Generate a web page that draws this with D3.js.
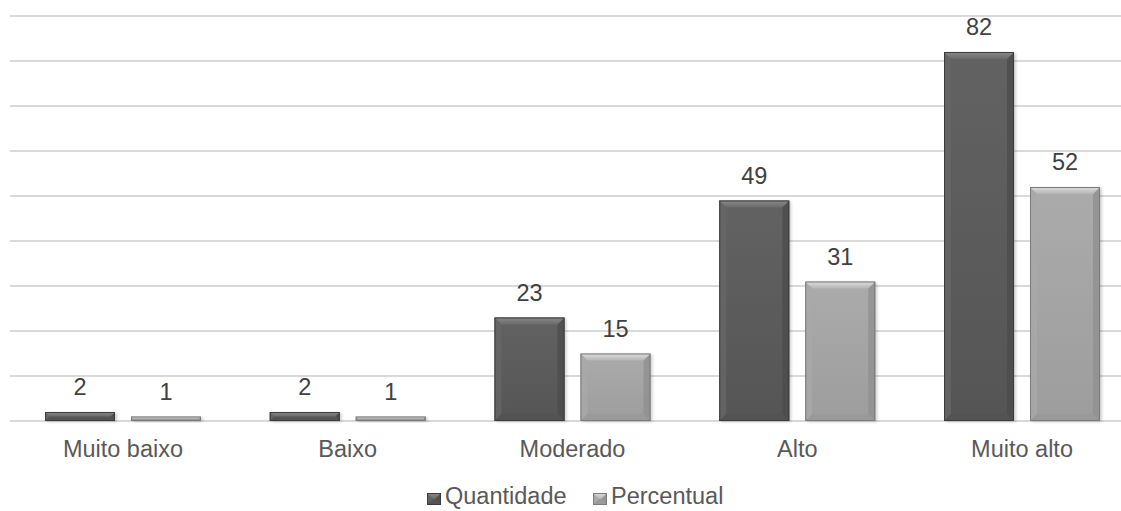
<!DOCTYPE html>
<html>
<head>
<meta charset="utf-8">
<script src="https://cdn.jsdelivr.net/npm/d3@7"></script>
<style>
  html, body { margin: 0; padding: 0; background: #ffffff; }
  svg { display: block; font-family: "Liberation Sans", Arial, sans-serif; }
</style>
</head>
<body>
<svg id="chart" width="1121" height="511"></svg>
<script>
// Nível de risco: quantidade e percentual
const categories = ["Muito baixo", "Baixo", "Moderado", "Alto", "Muito alto"];
const seriesNames = ["Quantidade", "Percentual"];
const quantidade = [2, 2, 23, 49, 82];
const percentual = [1, 1, 15, 31, 52];
const gridTicks = [0, 10, 20, 30, 40, 50, 60, 70, 80, 90];

const seriesValues = [quantidade, percentual];
const palettes = [
  { id: "q", faceTop: "#626262", faceBot: "#555555", topA: "#8a8a8a", topB: "#6a6a6a",
    left: "#666666", right: "#4c4c4c", bottom: "#525252", edge: "#3c3c3c" },
  { id: "p", faceTop: "#ababab", faceBot: "#9d9d9d", topA: "#dedede", topB: "#b4b4b4",
    left: "#a9a9a9", right: "#909090", bottom: "#999999", edge: "#7a7a7a" }
];

const svg = d3.select("#chart");
const W = 1121;
const defs = svg.append("defs");

palettes.forEach(p => {
  const f = defs.append("linearGradient").attr("id", "face-" + p.id)
    .attr("x1", 0).attr("y1", 0).attr("x2", 0).attr("y2", 1);
  f.append("stop").attr("offset", "0%").attr("stop-color", p.faceTop);
  f.append("stop").attr("offset", "100%").attr("stop-color", p.faceBot);
  const t = defs.append("linearGradient").attr("id", "top-" + p.id)
    .attr("x1", 0).attr("y1", 0).attr("x2", 0).attr("y2", 1);
  t.append("stop").attr("offset", "0%").attr("stop-color", p.topA);
  t.append("stop").attr("offset", "100%").attr("stop-color", p.topB);
});
defs.append("filter").attr("id", "soft").attr("x", "-20%").attr("y", "-20%")
  .attr("width", "140%").attr("height", "140%")
  .append("feGaussianBlur").attr("stdDeviation", 1.5);

const y = d3.scaleLinear().domain([0, 90]).range([421, 16]);
const x0 = d3.scaleBand().domain(categories).range([10.6, 1134.4])
  .paddingInner(0.306).paddingOuter(0.153);
const x1 = d3.scaleBand().domain(seriesNames).range([0, x0.bandwidth()])
  .paddingInner(0.186).paddingOuter(0);

// horizontal gridlines
svg.append("g").selectAll("line").data(gridTicks).join("line")
  .attr("x1", 10).attr("x2", W)
  .attr("y1", d => y(d)).attr("y2", d => y(d))
  .attr("stroke", "#d9d9d9").attr("stroke-width", 2);

// bevelled bar drawing
function bevelBar(g, bx, by, bw, bh, pal, shadow) {
  const b = Math.min(7, bh / 2, bw / 2);
  const x2 = bx + bw, y2 = by + bh;
  if (shadow) {
    g.append("rect").attr("x", bx + 2).attr("y", by + 1).attr("width", bw).attr("height", bh)
      .attr("fill", "#000").attr("opacity", 0.18).attr("filter", "url(#soft)");
  }
  g.append("rect").attr("x", bx).attr("y", by).attr("width", bw).attr("height", bh)
    .attr("fill", `url(#face-${pal.id})`);
  const poly = (pts, fill, op) => g.append("polygon")
    .attr("points", pts.map(p => p.join(",")).join(" ")).attr("fill", fill)
    .attr("opacity", op == null ? 1 : op);
  poly([[bx, by], [bx + b, by + b], [bx + b, y2 - b], [bx, y2]], pal.left, 0.8);
  poly([[x2, by], [x2, y2], [x2 - b, y2 - b], [x2 - b, by + b]], pal.right, 0.8);
  poly([[bx, y2], [bx + b, y2 - b], [x2 - b, y2 - b], [x2, y2]], pal.bottom, 0.8);
  poly([[bx, by], [x2, by], [x2 - b, by + b], [bx + b, by + b]], `url(#top-${pal.id})`);
  g.append("rect").attr("x", bx + 0.5).attr("y", by + 0.5)
    .attr("width", Math.max(0, bw - 1)).attr("height", Math.max(0, bh - 1))
    .attr("fill", "none").attr("stroke", pal.edge).attr("stroke-width", 1);
}

const bars = svg.append("g");
const labels = svg.append("g");
categories.forEach((cat, i) => {
  seriesNames.forEach((s, j) => {
    const v = seriesValues[j][i];
    const bx = x0(cat) + x1(s);
    const by = y(v);
    const bh = y(0) - y(v);
    bevelBar(bars.append("g"), bx, by, x1.bandwidth(), bh, palettes[j], true);
    labels.append("text")
      .attr("x", bx + x1.bandwidth() / 2)
      .attr("y", by - 17)
      .attr("text-anchor", "middle")
      .attr("font-size", 23.5)
      .attr("fill", "#404040")
      .text(v);
  });
});

// category axis labels
svg.append("g").selectAll("text").data(categories).join("text")
  .attr("x", d => x0(d) + x0.bandwidth() / 2)
  .attr("y", 457)
  .attr("text-anchor", "middle")
  .attr("font-size", 23.5)
  .attr("fill", "#595959")
  .text(d => d);

// legend
const legendX = [427, 593];
const legend = svg.append("g");
seriesNames.forEach((s, j) => {
  bevelBar(legend.append("g"), legendX[j], 493, 14, 12, palettes[j], false);
  legend.append("text")
    .attr("x", legendX[j] + 18)
    .attr("y", 504)
    .attr("font-size", 23.5)
    .attr("fill", "#595959")
    .text(s);
});
</script>
</body>
</html>
